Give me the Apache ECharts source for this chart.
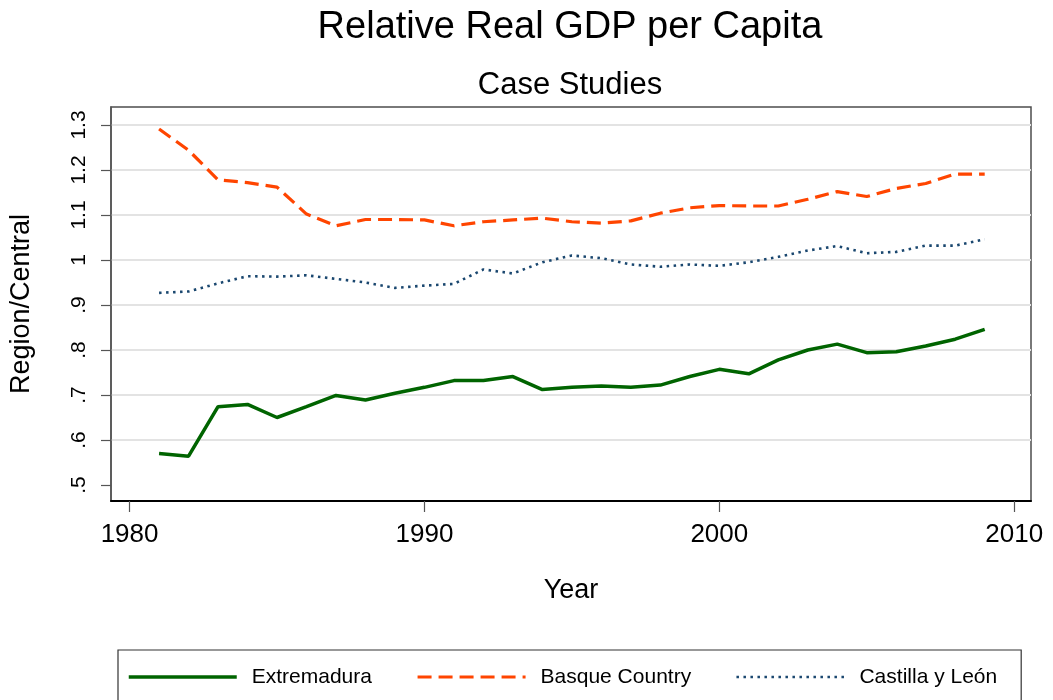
<!DOCTYPE html>
<html lang="en">
<head>
    <meta charset="UTF-8">
    <title>Relative Real GDP per Capita</title>
    <style>
        html, body { margin: 0; padding: 0; background: #fff; }
    </style>
</head>
<body>
<div id="main" style="width: 1053px; height: 700px;"></div>
<script type="text/javascript" src="https://cdn.jsdelivr.net/npm/echarts@6/dist/echarts.min.js"></script>
<script type="text/javascript">
var years = [1981, 1982, 1983, 1984, 1985, 1986, 1987, 1988, 1989, 1990,
    1991, 1992, 1993, 1994, 1995, 1996, 1997, 1998, 1999, 2000,
    2001, 2002, 2003, 2004, 2005, 2006, 2007, 2008, 2009];
var extremadura = [0.570, 0.564, 0.674, 0.679, 0.650, 0.674, 0.699, 0.689, 0.704, 0.717,
    0.732, 0.732, 0.741, 0.712, 0.717, 0.720, 0.717, 0.722, 0.741, 0.757,
    0.747, 0.778, 0.800, 0.813, 0.794, 0.796, 0.809, 0.824, 0.846];
var basque = [1.291, 1.244, 1.178, 1.172, 1.162, 1.102, 1.076, 1.090, 1.090, 1.089,
    1.076, 1.085, 1.089, 1.093, 1.085, 1.082, 1.087, 1.104, 1.116, 1.121,
    1.120, 1.120, 1.135, 1.152, 1.141, 1.159, 1.170, 1.191, 1.191];
var castilla = [0.927, 0.930, 0.948, 0.964, 0.963, 0.966, 0.958, 0.950, 0.938, 0.943,
    0.947, 0.979, 0.970, 0.995, 1.010, 1.004, 0.990, 0.985, 0.990, 0.987,
    0.995, 1.007, 1.021, 1.031, 1.015, 1.018, 1.032, 1.032, 1.046];

var xTicks = [1980, 1990, 2000, 2010];
var yTicks = [0.5, 0.6, 0.7, 0.8, 0.9, 1.0, 1.1, 1.2, 1.3];
var yTickLabels = ['.5', '.6', '.7', '.8', '.9', '1', '1.1', '1.2', '1.3'];
var gridValues = [0.6, 0.7, 0.8, 0.9, 1.0, 1.1, 1.2, 1.3];

function pairs(vals) {
    return years.map(function (y, i) { return [y, vals[i]]; });
}

var font = 'Liberation Sans, Arial, sans-serif';
var myChart = echarts.init(document.getElementById('main'));

var option = {
    backgroundColor: '#fff',
    animation: false,
    title: [
        {
            text: 'Relative Real GDP per Capita',
            left: 570,
            top: 9,
            textAlign: 'center',
            padding: 0,
            textStyle: { fontFamily: font, fontSize: 38, fontWeight: 'normal', color: '#000' }
        },
        {
            text: 'Case Studies',
            left: 570,
            top: 70,
            textAlign: 'center',
            padding: 0,
            textStyle: { fontFamily: font, fontSize: 31, fontWeight: 'normal', color: '#000' }
        }
    ],
    grid: {
        left: 107,
        top: 107,
        right: 22,
        bottom: 199,
        show: true,
        borderColor: '#4d4d4d',
        borderWidth: 1.5
    },
    legend: {
        left: 118,
        top: 650,
        padding: [15, 24, 30, 9],
        borderColor: '#333',
        borderWidth: 1.2,
        itemWidth: 108,
        itemHeight: 24,
        itemGap: 44,
        itemStyle: { opacity: 0 },
        textStyle: { fontFamily: font, fontSize: 21, color: '#000', lineHeight: 24, padding: [0, 0, 0, 10] },
        data: [
            { name: 'Extremadura', lineStyle: { width: 3.5 } },
            { name: 'Basque Country', lineStyle: { width: 3.2 } },
            { name: 'Castilla y León', lineStyle: { width: 2.6 } }
        ]
    },
    xAxis: {
        type: 'value',
        min: 1979.37,
        max: 2010.57,
        name: 'Year',
        nameLocation: 'middle',
        nameGap: 76,
        nameTextStyle: { fontFamily: font, fontSize: 27, color: '#000' },
        axisLine: { show: true, onZero: false, lineStyle: { color: '#000', width: 2 } },
        axisTick: { show: true, length: 11, customValues: xTicks, lineStyle: { color: '#555', width: 1.2 } },
        axisLabel: {
            customValues: xTicks,
            margin: 21,
            fontFamily: font,
            fontSize: 26,
            color: '#000',
            formatter: function (v) { return String(v); }
        },
        splitLine: { show: false }
    },
    yAxis: [
        {
            type: 'value',
            min: 0.4644,
            max: 1.34,
            name: 'Region/Central',
            nameLocation: 'middle',
            nameRotate: 90,
            nameGap: 76,
            nameTextStyle: { fontFamily: font, fontSize: 27, color: '#000' },
            axisLine: { show: true, onZero: false, lineStyle: { color: '#555', width: 1.5 } },
            axisTick: { show: true, length: 10, customValues: yTicks, lineStyle: { color: '#555', width: 1.2 } },
            axisLabel: {
                customValues: yTicks,
                rotate: 90,
                margin: 21,
                fontFamily: font,
                fontSize: 21,
                color: '#000',
                formatter: function (v) {
                    return yTickLabels[Math.round((v - 0.5) * 10)];
                }
            },
            splitLine: { show: false }
        },
        {
            type: 'value',
            min: 0.4644,
            max: 1.34,
            position: 'left',
            axisLine: { show: false },
            axisTick: { show: false, customValues: gridValues },
            axisLabel: { show: false, customValues: gridValues },
            splitLine: { show: true, lineStyle: { color: '#e3e3e3', width: 2 } }
        }
    ],
    series: [
        {
            name: 'Extremadura',
            type: 'line',
            data: pairs(extremadura),
            symbol: 'none',
            color: '#006400',
            lineStyle: { color: '#006400', width: 3.5 }
        },
        {
            name: 'Basque Country',
            type: 'line',
            data: pairs(basque),
            symbol: 'none',
            color: '#ff4500',
            lineStyle: { color: '#ff4500', width: 3.2, type: [14, 7] }
        },
        {
            name: 'Castilla y León',
            type: 'line',
            data: pairs(castilla),
            symbol: 'none',
            color: '#1a476f',
            lineStyle: { color: '#1a476f', width: 2.6, type: [2.5, 4.5] }
        }
    ]
};
myChart.setOption(option);
</script>
</body>
</html>
